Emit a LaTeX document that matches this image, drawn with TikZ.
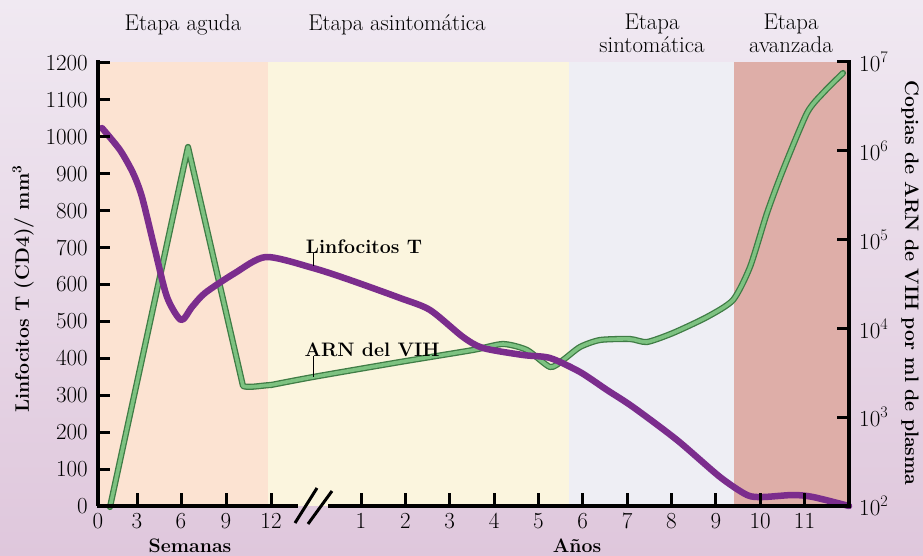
\documentclass[tikz,border=0pt]{standalone}
\definecolor{bgtop}{HTML}{F0E9F2}
\definecolor{bgbot}{HTML}{DFC7DC}
\definecolor{peach}{HTML}{FCE3D2}
\definecolor{paleyel}{HTML}{FBF5DE}
\definecolor{palegrey}{HTML}{EEEEF4}
\definecolor{rosefill}{HTML}{DEAEA8}
\definecolor{grnout}{HTML}{3F7C45}
\definecolor{grnin}{HTML}{7DC281}
\definecolor{purp}{HTML}{7B2D8D}
\tikzset{
  ticklab/.style={font=\fontsize{23}{27}\selectfont, inner sep=0pt},
  stagelab/.style={font=\fontsize{22.8}{26}\selectfont, inner sep=0pt, anchor=base},
  boldlab/.style={font=\bfseries\fontsize{19.5}{23}\selectfont, inner sep=0pt},
  axline/.style={line width=3.5pt, black},
  axtick/.style={line width=3pt, black},
  leader/.style={line width=0.8pt, black},
  rnacurve/.style={draw=grnout, line width=1.3pt, double=grnin, double distance=3.6pt, line join=round, line cap=round},
  tcurve/.style={draw=purp, line width=6.5pt, line join=round, line cap=round}
}
\begin{document}
\begin{tikzpicture}[x=1pt,y=-1pt]
\useasboundingbox (0,0) rectangle (923,556);
\fill[top color=bgtop,bottom color=bgbot] (0,0) rectangle (923,556);
% stage regions
\fill[peach] (98,62) rectangle (268,506);
\fill[paleyel] (268,62) rectangle (569,506);
\fill[palegrey] (569,62) rectangle (734,506);
\fill[rosefill] (734,62) rectangle (849,506);
% stage labels
\node[stagelab] (s1) at (183,31) {Etapa aguda};
\node[stagelab] (s2) at (397,31) {Etapa asintomática};
\node[stagelab] (s3a) at (652,30) {Etapa};
\node[stagelab] (s3b) at (652,53) {sintomática};
\node[stagelab] (s4a) at (791,30) {Etapa};
\node[stagelab] (s4b) at (791,53) {avanzada};
% curves
\draw[rnacurve] (110,507) -- (188,147) -- (243,386) .. controls (248,388) and (258,386) .. (270,385)
  -- plot[smooth, tension=0.4] coordinates {
  (271,385) (313,377) (400,362) (473,350) (503,344) (527,350) (550,367) (563,360)
  (580,347) (600,340) (630,339) (647,342) (673,333) (707,317) (733,300)
  (750,267) (767,213) (783,170) (807,113) (823,93) (843,73)};
\draw[tcurve] plot[smooth, tension=0.45] coordinates {
  (102,128) (120,150) (133,173) (142,197) (155,250) (167,297) (181,320)
  (192,307) (205,293) (235,273) (266,257) (313,268) (350,280)
  (400,298) (430,310) (463,337) (483,348) (523,355) (550,358) (580,372)
  (607,390) (633,407) (677,440) (720,477) (747,495) (763,497) (793,495)
  (813,497) (849,506)};
% curve labels
\node[boldlab, anchor=base] (lt) at (364,253) {Linfocitos T};
\coordinate (ltpt) at (313,266);
\draw[leader] (lt.south -| ltpt) -- (ltpt);
\node[boldlab, anchor=base] (rna) at (372,356) {ARN del VIH};
\coordinate (rnapt) at (313,377);
\draw[leader] (rna.south -| rnapt) -- (rnapt);
% axes
\draw[axline] (98,60.5) -- (98,506);
\draw[axline] (849,60.5) -- (849,506);
\draw[axline] (96.5,506) -- (298,506);
\draw[axline] (328,506) -- (850.5,506);
\draw[line width=3pt] (295,523) -- (317,488);
\draw[line width=3pt] (308,524) -- (332,491);
% left ticks
\foreach \v [count=\i from 0] in {0,100,...,1200} {
  \node[ticklab, anchor=east] (yl\i) at (88,{506-36.92*\i}) {\v};
  \ifnum\i>0 \draw[axtick] (98,{506-36.92*\i}) -- (110,{506-36.92*\i}); \fi
}
% right ticks
\foreach \e [count=\i from 0] in {2,...,7} {
  \node[ticklab, anchor=west] (yr\i) at (859,{506-88.8*\i}) {10\textsuperscript{\e}};
  \ifnum\i>0 \draw[axtick] (849,{506-88.8*\i}) -- (837,{506-88.8*\i}); \fi
}
% week ticks
\foreach \xx/\t in {98/0,137/3,181/6,226/9,271/12} {
  \node[ticklab] (w\t) at (\xx,521) {\t};
}
\foreach \xx in {137,181,226,271} \draw[axtick] (\xx,506) -- (\xx,493);
% year ticks
\foreach \n in {1,...,11} {
  \node[ticklab] (a\n) at ({361+44.35*(\n-1)},521) {\n};
  \draw[axtick] ({361+44.35*(\n-1)},506) -- ({361+44.35*(\n-1)},493);
}
% axis titles
\node[boldlab] (sem) at (190,546) {Semanas};
\node[boldlab] (anos) at (577,546) {Años};
\node[boldlab, rotate=90] (ylab) at (23,289) {Linfocitos T (CD4)/ mm\textsuperscript{3}};
\node[boldlab, rotate=-90] (ylab2) at (910,283) {Copias de ARN de VIH por ml de plasma};
\end{tikzpicture}
\end{document}
